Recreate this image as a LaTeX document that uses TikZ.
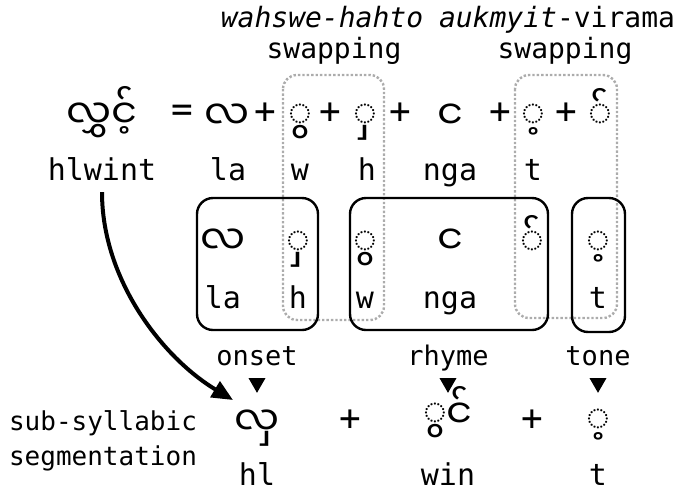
\documentclass[tikz,border=0pt]{standalone}
\usepackage{fontspec}
\setmonofont{DejaVu Sans Mono}
\newfontfamily\my[Script=Myanmar]{Noto Sans Myanmar UI}
\usetikzlibrary{shapes.geometric,arrows.meta}
\begin{document}
\begin{tikzpicture}[x=1pt,y=-1pt,
  lab/.style={font=\ttfamily\fontsize{30}{34}\selectfont, inner sep=0pt, anchor=base},
  toplab/.style={font=\ttfamily\fontsize{28}{32}\selectfont, inner sep=0pt, anchor=base},
  sublab/.style={font=\ttfamily\fontsize{27}{32}\selectfont, inner sep=0pt, anchor=base},
  seglab/.style={font=\ttfamily\fontsize{26}{35}\selectfont, inner sep=0pt, anchor=base},
  op/.style={font=\ttfamily\fontsize{36}{40}\selectfont, inner sep=0pt},
  mm/.style={font=\my\fontsize{40}{44}\selectfont, inner sep=0pt, anchor=base},
  solidbox/.style={draw, line width=2.4pt, rounded corners=16pt},
  dotbox/.style={draw=gray!65, dotted, line width=2.4pt, rounded corners=14pt},
  tri/.style={regular polygon, regular polygon sides=3, shape border rotate=180, fill, inner sep=0pt, minimum size=19.6pt},
  arrowsty/.style={line width=4pt, -{Triangle[length=21pt,width=18pt]}},
]
\useasboundingbox (0,0) rectangle (678,491);

% swapping regions
\draw[dotbox] (283,75) rectangle (384,320);
\draw[dotbox] (515,75) rectangle (617,318);
% groups
\draw[solidbox] (197,198) rectangle (318,330);
\draw[solidbox] (350,198) rectangle (548,330);
\draw[solidbox] (572,198) rectangle (625,332);

% top labels
\node[toplab] (t1) at (322,27) {\textit{wahswe-hahto}};
\node[toplab] (t2) at (334,58) {swapping};
\node[toplab] (t3) at (557,27) {\textit{aukmyit}-virama};
\node[toplab] (t4) at (565,58) {swapping};

% row 1
\node[mm] (word) at (102,128) {လွှင့်};
\node[op] (eq) at (182,113) {=};
\node[mm] (r1la) at (227,129) {လ};
\node[op] (p1) at (265,113) {+};
\node[mm] (r1w) at (300,129) {◌ွ};
\node[op] (p2) at (330,113) {+};
\node[mm] (r1h) at (365,129) {◌ှ};
\node[op] (p3) at (400,113) {+};
\node[mm] (r1nga) at (450,129) {င};
\node[op] (p4) at (500,113) {+};
\node[mm] (r1t) at (533,129) {◌့};
\node[op] (p5) at (566,113) {+};
\node[mm] (r1v) at (600,129) {◌်};

% row 2
\node[lab] (hlwint) at (102,180) {hlwint};
\node[lab] (l2la) at (228,180) {la};
\node[lab] (l2w) at (300,180) {w};
\node[lab] (l2h) at (367,180) {h};
\node[lab] (l2nga) at (450,180) {nga};
\node[lab] (l2t) at (533,180) {t};

% boxed rows
\node[mm] (b1la) at (223,254) {လ};
\node[mm] (b1h) at (298,256) {◌ှ};
\node[mm] (b2w) at (365,256) {◌ွ};
\node[mm] (b2nga) at (450,254) {င};
\node[mm] (b2v) at (532,256) {◌်};
\node[mm] (b3t) at (598,256) {◌့};
\node[lab] (c1la) at (223,308) {la};
\node[lab] (c1h) at (298,308) {h};
\node[lab] (c2w) at (365,308) {w};
\node[lab] (c2nga) at (450,308) {nga};
\node[lab] (c3t) at (598,308) {t};

% bottom
\node[sublab] (onset) at (257,365) {onset};
\node[sublab] (rhyme) at (448,365) {rhyme};
\node[sublab] (tone) at (598,365) {tone};
\node[tri] (tri1) at (257,383) {};
\node[tri] (tri2) at (448,383) {};
\node[tri] (tri3) at (598,383) {};
\node[mm] (shl) at (257,435) {လှ};
\node[op] (q1) at (350,420) {+};
\node[mm] (swin) at (448,428) {◌ွင်};
\node[op] (q2) at (532,420) {+};
\node[mm] (st) at (598,434) {◌့};
\node[lab] (hl) at (257,485) {hl};
\node[lab] (win) at (448,485) {win};
\node[lab] (tt) at (598,485) {t};
\node[seglab] (seg1) at (103,430) {sub-syllabic};
\node[seglab] (seg2) at (103,465) {segmentation};

\coordinate (arrowend) at (233,400);
\draw[arrowsty, shorten <=12pt] (hlwint.south) .. controls +(0,100) and +(-70,-42) .. (arrowend);
\end{tikzpicture}
\end{document}
